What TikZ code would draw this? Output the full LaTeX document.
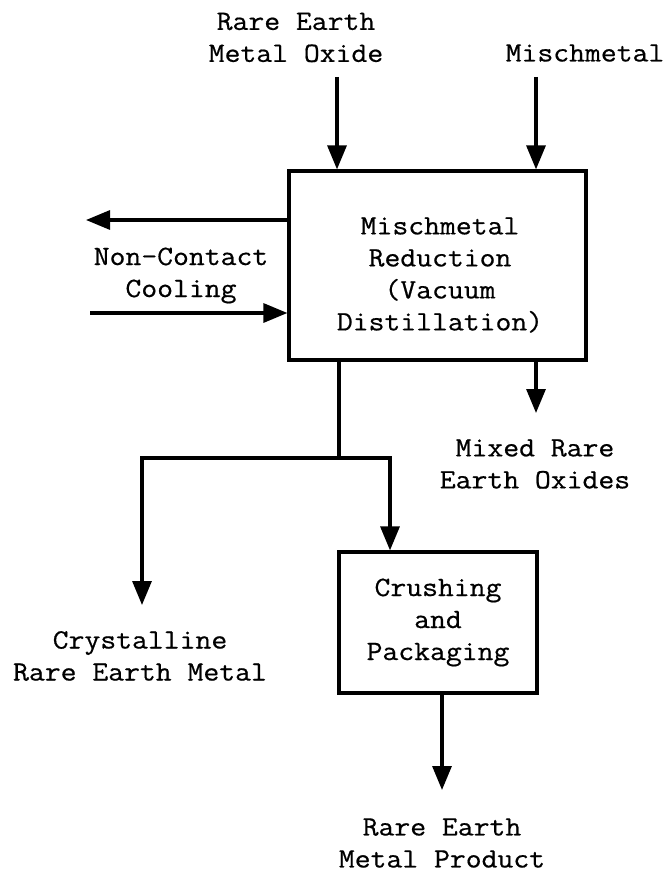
\documentclass[tikz,border=0pt]{standalone}
\usepackage{fontspec}
\setmonofont{Latin Modern Mono}[FakeStretch=1.1, FakeBold=0.6]
\usetikzlibrary{arrows.meta}
\begin{document}
\begin{tikzpicture}[x=1pt,y=-1pt,
  lbl/.style={font=\ttfamily\fontsize{28}{32}\selectfont, align=center, inner sep=0pt},
  proc/.style={draw, line width=3.2pt, inner sep=0pt},
  flow/.style={line width=3.2pt, -{Triangle[width=19pt,length=24pt]}},
  plain/.style={line width=3.2pt}]
\useasboundingbox (0,0) rectangle (669,872);

% process boxes
\node[proc, minimum width=297pt, minimum height=189pt] (main) at (437.5,265.5) {};
\node[lbl] (maintxt) at (440,275) {Mischmetal\\Reduction\\(Vacuum\\Distillation)};
\node[proc, lbl, draw, line width=3.2pt, minimum width=198pt, minimum height=141pt] (crush) at (438,622.5) {Crushing\\and\\Packaging};

% labels
\node[lbl] (reo) at (296,37.5) {Rare Earth\\Metal Oxide};
\node[lbl] (mis) at (585,53) {Mischmetal};
\node[lbl] (ncc) at (181,275.5) {Non-Contact\\Cooling};
\node[lbl] (mixed) at (535,464) {Mixed Rare\\Earth Oxides};
\node[lbl] (crys) at (140,656) {Crystalline\\Rare Earth Metal};
\node[lbl] (prod) at (442,843) {Rare Earth\\Metal Product};

% connector end points
\coordinate (reoS) at (337,77);
\coordinate (misS) at (536,77);
\coordinate (outE) at (86,220);
\coordinate (inS) at (90,313);
\coordinate (mixE) at (536,413);
\coordinate (j) at (339,458);
\coordinate (jl) at (142,458);
\coordinate (jr) at (390,458);
\coordinate (crysE) at (142,605);
\coordinate (prodE) at (442,790);

% connectors
\draw[flow] (reoS) -- (reoS |- main.north);
\draw[flow] (misS) -- (misS |- main.north);
\draw[flow] (main.west |- outE) -- (outE);
\draw[flow] (inS) -- (inS -| main.west);
\draw[flow] (mixE |- main.south) -- (mixE);
\draw[plain] (j |- main.south) -- (j);
\draw[flow] (j) -- (jl) -- (crysE);
\draw[flow] (j) -- (jr) -- (jr |- crush.north);
\draw[flow] (prodE |- crush.south) -- (prodE);
\end{tikzpicture}
\end{document}
